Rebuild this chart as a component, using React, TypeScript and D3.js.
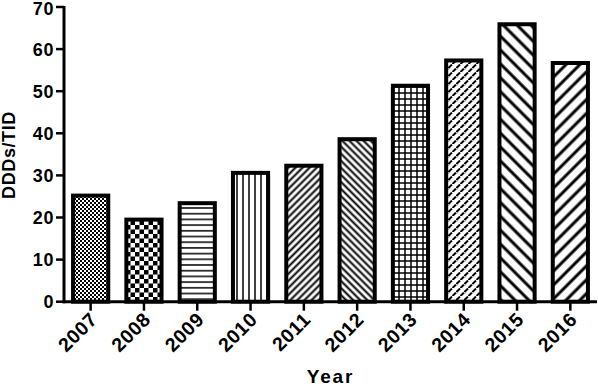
import React from "react";
import * as d3 from "d3";

const years = ["2007", "2008", "2009", "2010", "2011", "2012", "2013", "2014", "2015", "2016"];
const values = [25.2, 19.5, 23.4, 30.6, 32.3, 38.6, 51.3, 57.3, 65.9, 56.7];
const patterns = ["fineCheck", "bigCheck", "hLines", "vLines", "fwdFine", "backFine", "grid", "dashes", "backWide", "fwdWide"];
const yTicks = [0, 10, 20, 30, 40, 50, 60, 70];

const W = 598;
const H = 387;
const left = 64;
const right = 597;
const top = 7;
const bottom = 301.7;
const font = "Arial, 'Liberation Sans', sans-serif";

const Patterns = () => (
  <defs>
    <pattern id="fineCheck" patternUnits="userSpaceOnUse" width={4} height={4}>
      <rect width={4} height={4} fill="#fff" />
      <rect width={2} height={2} fill="#000" />
      <rect x={2} y={2} width={2} height={2} fill="#000" />
    </pattern>
    <pattern id="bigCheck" patternUnits="userSpaceOnUse" width={9} height={9}>
      <rect width={9} height={9} fill="#fff" />
      <rect width={4.5} height={4.5} fill="#000" />
      <rect x={4.5} y={4.5} width={4.5} height={4.5} fill="#000" />
    </pattern>
    <pattern id="hLines" patternUnits="userSpaceOnUse" width={6} height={5.7}>
      <rect width={6} height={5.7} fill="#fff" />
      <line x1={0} y1={2.8} x2={6} y2={2.8} stroke="#000" strokeWidth={1.5} />
    </pattern>
    <pattern id="vLines" patternUnits="userSpaceOnUse" width={6} height={6}>
      <rect width={6} height={6} fill="#fff" />
      <line x1={3} y1={0} x2={3} y2={6} stroke="#000" strokeWidth={1.5} />
    </pattern>
    <pattern id="fwdFine" patternUnits="userSpaceOnUse" width={5} height={5} patternTransform="rotate(45)">
      <rect width={5} height={5} fill="#fff" />
      <line x1={2.5} y1={0} x2={2.5} y2={5} stroke="#000" strokeWidth={2} />
    </pattern>
    <pattern id="backFine" patternUnits="userSpaceOnUse" width={5} height={5} patternTransform="rotate(-45)">
      <rect width={5} height={5} fill="#fff" />
      <line x1={2.5} y1={0} x2={2.5} y2={5} stroke="#000" strokeWidth={2} />
    </pattern>
    <pattern id="grid" patternUnits="userSpaceOnUse" width={6} height={6}>
      <rect width={6} height={6} fill="#fff" />
      <line x1={0} y1={3} x2={6} y2={3} stroke="#000" strokeWidth={1.5} />
      <line x1={3} y1={0} x2={3} y2={6} stroke="#000" strokeWidth={1.5} />
    </pattern>
    <pattern id="dashes" patternUnits="userSpaceOnUse" width={8} height={8}>
      <rect width={8} height={8} fill="#fff" />
      <line x1={0.5} y1={4} x2={4} y2={0.5} stroke="#000" strokeWidth={2} />
      <line x1={4.5} y1={8} x2={8} y2={4.5} stroke="#000" strokeWidth={2} />
      <line x1={-3.5} y1={8} x2={0} y2={4.5} stroke="#000" strokeWidth={2} />
    </pattern>
    <pattern id="backWide" patternUnits="userSpaceOnUse" width={9.8} height={9.8} patternTransform="rotate(-45)">
      <rect width={9.8} height={9.8} fill="#fff" />
      <line x1={4.9} y1={0} x2={4.9} y2={9.8} stroke="#000" strokeWidth={3} />
    </pattern>
    <pattern id="fwdWide" patternUnits="userSpaceOnUse" width={9.8} height={9.8} patternTransform="rotate(45)">
      <rect width={9.8} height={9.8} fill="#fff" />
      <line x1={4.9} y1={0} x2={4.9} y2={9.8} stroke="#000" strokeWidth={3} />
    </pattern>
  </defs>
);

export default function App() {
  const x = d3.scaleBand<string>().domain(years).range([left, right]).paddingInner(0.34).paddingOuter(0.17);
  const y = d3.scaleLinear().domain([0, 70]).range([bottom, top]);

  return (
    <svg
      width={W}
      height={H}
      style={{ position: "absolute", left: 0, top: 0, background: "#fff" }}
      fontFamily={font}
      fontWeight="bold"
    >
      <Patterns />

      {/* bars */}
      {years.map((yr, i) => (
        <rect
          key={yr}
          x={x(yr)}
          y={y(values[i])}
          width={x.bandwidth()}
          height={bottom - y(values[i])}
          fill={`url(#${patterns[i]})`}
          stroke="#000"
          strokeWidth={4}
        />
      ))}

      {/* y axis */}
      <line x1={left} y1={top - 1} x2={left} y2={bottom + 1.5} stroke="#000" strokeWidth={3} />
      {yTicks.map((t) => (
        <g key={t}>
          <line x1={left - 8} y1={y(t)} x2={left} y2={y(t)} stroke="#000" strokeWidth={2.5} />
          {/* top label nudged down so it isn't clipped by the svg edge */}
          <text
            x={left - 10}
            y={t === 70 ? y(t) + 2 : y(t)}
            dy="0.36em"
            textAnchor="end"
            fontSize={18}
            letterSpacing={0.6}
          >
            {t}
          </text>
        </g>
      ))}

      {/* x axis */}
      <line x1={left - 1.5} y1={bottom} x2={right} y2={bottom} stroke="#000" strokeWidth={3} />
      {years.map((yr) => {
        const cx = (x(yr) as number) + x.bandwidth() / 2;
        return (
          <g key={yr}>
            <line x1={cx} y1={bottom} x2={cx} y2={bottom + 9} stroke="#000" strokeWidth={2.5} />
            <text
              transform={`translate(${cx + 8},${bottom + 19}) rotate(-45)`}
              textAnchor="end"
              fontSize={19.5}
              letterSpacing={0.6}
            >
              {yr}
            </text>
          </g>
        );
      })}

      <text x={(left + right) / 2} y={383} textAnchor="middle" fontSize={19} letterSpacing={1.8}>
        Year
      </text>
      <text transform={`translate(15,155) rotate(-90)`} textAnchor="middle" fontSize={18} letterSpacing={0.6}>
        DDDs/TID
      </text>
    </svg>
  );
}
